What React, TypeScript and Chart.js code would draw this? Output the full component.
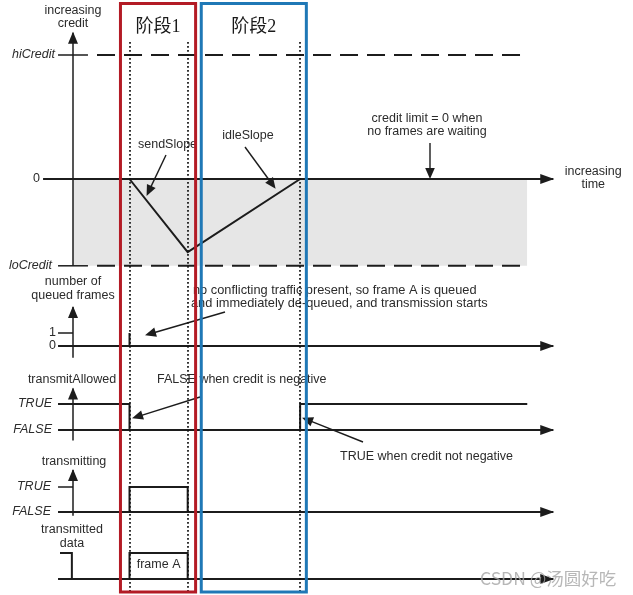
import React, { useEffect, useRef } from "react";
import { Chart, registerables } from "chart.js";

Chart.register(...registerables);

const W = 633;
const H = 595;

// ---- time axis (arbitrary units, origin at the vertical axes) ----
const eventTimes = [10, 20.3, 40.2]; // frame A queued & sent, transmission ends, credit back to 0
const traceStart = -2.65; // where the signal traces / tick marks begin
const timeEnd = 85; // tip of the time arrows
const shadeEnd = 80.4; // end of the negative-credit shading and limit lines
const dashStart = 4.25;
const phaseBoxes = [
  [8.4, 21.7],
  [22.7, 41.3],
];
const phaseLabels = ["阶段1", "阶段2"];

// ---- credit panel ----
const creditTickLabels = ["hiCredit", "0", "loCredit"];
const creditLimits = [10, 0, -7];
const creditPathT = [10, 20.3, 40.2];
const creditPathV = [0, -5.9, 0];

// ---- number of queued frames ----
const queueTickLabels = ["1", "0"];
const queueTicks = [1, 0];
const queueT = [10, 10];
const queueV = [0, 1];

// ---- transmitAllowed ----
const boolTickLabels = ["TRUE", "FALSE"];
const boolTicks = [1, 0];
const allowedT = [-2.65, 10, 10, 40.2, 40.2, 80.4];
const allowedV = [1, 1, 0, 0, 1, 1];

// ---- transmitting ----
const txT = [10, 10, 20.3, 20.3];
const txV = [0, 1, 1, 0];

// ---- transmitted data ----
const prevFrameT = [-2.3, -0.2, -0.2];
const prevFrameV = [1, 1, 0];
const frameAT = [10, 10, 20.3, 20.3];
const frameAV = [0, 1, 1, 0];

// ---- layout (pixels) ----
const X0 = 73;
const XU = 5.65;
const panels: Record<string, { base: number; unit: number }> = {
  yC: { base: 179, unit: 12.4 },
  yQ: { base: 346, unit: 13 },
  yA: { base: 430, unit: 26 },
  yT: { base: 512, unit: 25 },
  yD: { base: 579, unit: 26 },
};

const INK = "#1c1c1c";
const TXT = "#2b2b2b";
const SANS = '"Liberation Sans", Arial, sans-serif';
const F = `12.5px ${SANS}`;

const pts = (ts: number[], vs: number[]) => ts.map((t, i) => ({ x: t, y: vs[i] }));

function line(axis: string, data: any[], opts: any = {}) {
  return {
    type: "line",
    yAxisID: axis,
    data,
    borderColor: INK,
    borderWidth: 2,
    pointRadius: 0,
    tension: 0,
    fill: false,
    order: 0,
    ...opts,
  };
}

function head(ctx: CanvasRenderingContext2D, x1: number, y1: number, x2: number, y2: number, len: number, hw: number, color: string) {
  const ang = Math.atan2(y2 - y1, x2 - x1);
  ctx.save();
  ctx.translate(x2, y2);
  ctx.rotate(ang);
  ctx.beginPath();
  ctx.moveTo(1, 0);
  ctx.lineTo(-len, -hw);
  ctx.lineTo(-len, hw);
  ctx.closePath();
  ctx.fillStyle = color;
  ctx.fill();
  ctx.restore();
}

function pointer(ctx: CanvasRenderingContext2D, x1: number, y1: number, x2: number, y2: number) {
  const len = 10;
  const d = Math.hypot(x2 - x1, y2 - y1);
  const ex = x2 - ((x2 - x1) / d) * (len - 1);
  const ey = y2 - ((y2 - y1) / d) * (len - 1);
  ctx.save();
  ctx.strokeStyle = INK;
  ctx.lineWidth = 1.4;
  ctx.beginPath();
  ctx.moveTo(x1, y1);
  ctx.lineTo(ex, ey);
  ctx.stroke();
  ctx.restore();
  head(ctx, x1, y1, x2, y2, len, 4.8, INK);
}

function text(ctx: CanvasRenderingContext2D, s: string, x: number, y: number, align: CanvasTextAlign = "center", font = F, color = TXT) {
  ctx.save();
  ctx.font = font;
  ctx.fillStyle = color;
  ctx.textAlign = align;
  ctx.textBaseline = "middle";
  ctx.fillText(s, x, y);
  ctx.restore();
}

const diagramPlugin = {
  id: "diagram",
  afterDatasetsDraw(chart: any) {
    const ctx: CanvasRenderingContext2D = chart.ctx;
    const X = (t: number) => chart.scales.x.getPixelForValue(t);
    const Y = (axis: string, v: number) => chart.scales[axis].getPixelForValue(v);
    const ax = X(0);

    // arrowheads at the end of axis / time lines
    chart.data.datasets.forEach((ds: any, i: number) => {
      if (!ds.arrow) return;
      const meta = chart.getDatasetMeta(i);
      const n = meta.data.length;
      const a = meta.data[n - 2];
      const b = meta.data[n - 1];
      head(ctx, a.x, a.y, b.x, b.y, ds.arrow[0], ds.arrow[1], INK);
    });

    // axis titles
    text(ctx, "increasing", ax, 11);
    text(ctx, "credit", ax, 24);
    text(ctx, "increasing", X(timeEnd) + 40, 172);
    text(ctx, "time", X(timeEnd) + 40, 185);
    text(ctx, "number of", ax, 282);
    text(ctx, "queued frames", ax, 296);
    text(ctx, "transmitAllowed", ax - 1, 380);
    text(ctx, "transmitting", ax + 1, 462);
    text(ctx, "transmitted", ax - 1, 530);
    text(ctx, "data", ax - 1, 544);

    // tick labels
    const it = `italic 12.5px ${SANS}`;
    text(ctx, creditTickLabels[0], ax - 18, Y("yC", creditLimits[0]), "right", it);
    text(ctx, creditTickLabels[1], ax - 33, Y("yC", creditLimits[1]), "right");
    text(ctx, creditTickLabels[2], ax - 21, Y("yC", creditLimits[2]), "right", it);
    queueTicks.forEach((v, i) => text(ctx, queueTickLabels[i], ax - 17, Y("yQ", v), "right"));
    boolTicks.forEach((v, i) => {
      text(ctx, boolTickLabels[i], ax - 21, Y("yA", v), "right", it);
      text(ctx, boolTickLabels[i], ax - 22, Y("yT", v), "right", it);
    });

    // annotations
    text(ctx, "sendSlope", 138, 145, "left");
    text(ctx, "idleSlope", 248, 136);
    text(ctx, "credit limit = 0 when", 427, 119);
    text(ctx, "no frames are waiting", 427, 132);
    text(ctx, "no conflicting traffic present, so frame A is queued", 193, 290, "left", `12.8px ${SANS}`);
    text(ctx, "and immediately de-queued, and transmission starts", 191, 303, "left", `12.8px ${SANS}`);
    text(ctx, "FALSE when credit is negative", 157, 380, "left");
    text(ctx, "TRUE when credit not negative", 340, 457, "left");
    text(ctx, "frame A", (X(frameAT[0]) + X(frameAT[3])) / 2, 565);

    pointer(ctx, 166, 155, 147, 195);
    pointer(ctx, 245, 147, 275, 188);
    pointer(ctx, 430, 143, 430, 178);
    pointer(ctx, 225, 312, 146, 335);
    pointer(ctx, 200, 397, 133, 418);
    pointer(ctx, 363, 442, 303, 418);

    // dotted event markers
    ctx.save();
    ctx.strokeStyle = "#111";
    ctx.lineWidth = 1.7;
    ctx.setLineDash([1.7, 2.3]);
    eventTimes.forEach((t) => {
      const x = Math.round(X(t));
      ctx.beginPath();
      ctx.moveTo(x, 42);
      ctx.lineTo(x, 592);
      ctx.stroke();
    });
    ctx.restore();

    // phase boxes
    const colors = ["#b31b25", "#1f78b6"];
    ctx.save();
    ctx.lineWidth = 3;
    phaseBoxes.forEach(([a, b], i) => {
      const x1 = X(a);
      const x2 = X(b);
      ctx.strokeStyle = colors[i];
      ctx.strokeRect(x1, 3.5, x2 - x1, 588.5);
      text(ctx, phaseLabels[i], (x1 + x2) / 2, 27, "center", `18px "Liberation Serif", "Noto Sans CJK SC", serif`, "#1a1a1a");
    });
    ctx.restore();

    // watermark
    text(ctx, "CSDN @汤圆好吃", 480, 578, "left", `17.5px "Noto Sans CJK SC", sans-serif`, "rgba(165,165,165,0.8)");
  },
};

function buildDatasets() {
  const ds: any[] = [];
  // credit panel
  ds.push(line("yC", [{ x: 0, y: 0 }, { x: shadeEnd, y: 0 }], { borderWidth: 0, borderColor: "transparent", backgroundColor: "#e6e6e6", fill: { value: creditLimits[2] }, order: 10 }));
  ds.push(line("yC", [{ x: 0, y: creditLimits[2] }, { x: 0, y: 11.8 }], { borderWidth: 1.5, arrow: [11, 5] }));
  ds.push(line("yC", [{ x: -5.3, y: creditLimits[1] }, { x: timeEnd, y: creditLimits[1] }], { arrow: [13, 5] }));
  [creditLimits[0], creditLimits[2]].forEach((v) => {
    ds.push(line("yC", [{ x: traceStart, y: v }, { x: 2.65, y: v }], { borderWidth: 1.5 }));
    ds.push(line("yC", [{ x: dashStart, y: v }, { x: shadeEnd, y: v }], { borderDash: [18, 9] }));
  });
  ds.push(line("yC", pts(creditPathT, creditPathV)));
  // queued frames
  ds.push(line("yQ", [{ x: 0, y: -0.9 }, { x: 0, y: 3 }], { borderWidth: 1.5, arrow: [11, 5] }));
  ds.push(line("yQ", [{ x: traceStart, y: 0 }, { x: timeEnd, y: 0 }], { arrow: [13, 5] }));
  ds.push(line("yQ", [{ x: traceStart, y: 1 }, { x: 0, y: 1 }], { borderWidth: 1.5 }));
  ds.push(line("yQ", pts(queueT, queueV)));
  // transmitAllowed
  ds.push(line("yA", [{ x: 0, y: -0.4 }, { x: 0, y: 1.6 }], { borderWidth: 1.5, arrow: [11, 5] }));
  ds.push(line("yA", [{ x: traceStart, y: 0 }, { x: timeEnd, y: 0 }], { arrow: [13, 5] }));
  ds.push(line("yA", pts(allowedT, allowedV)));
  // transmitting
  ds.push(line("yT", [{ x: 0, y: -0.15 }, { x: 0, y: 1.68 }], { borderWidth: 1.5, arrow: [11, 5] }));
  ds.push(line("yT", [{ x: traceStart, y: 0 }, { x: timeEnd, y: 0 }], { arrow: [13, 5] }));
  ds.push(line("yT", [{ x: traceStart, y: 1 }, { x: 0, y: 1 }], { borderWidth: 1.5 }));
  ds.push(line("yT", pts(txT, txV)));
  // transmitted data
  ds.push(line("yD", [{ x: traceStart, y: 0 }, { x: timeEnd, y: 0 }], { arrow: [13, 5] }));
  ds.push(line("yD", pts(prevFrameT, prevFrameV)));
  ds.push(line("yD", pts(frameAT, frameAV)));
  return ds;
}

function panelScale(key: string) {
  const p = panels[key];
  return { type: "linear", display: false, min: -(H - p.base) / p.unit, max: p.base / p.unit };
}

export default function App() {
  const ref = useRef<HTMLCanvasElement | null>(null);
  useEffect(() => {
    if (!ref.current) return;
    const chart = new Chart(ref.current, {
      type: "line",
      data: { datasets: buildDatasets() },
      options: {
        responsive: false,
        animation: false,
        events: [],
        layout: { padding: 0, autoPadding: false },
        plugins: { legend: { display: false }, tooltip: { enabled: false }, title: { display: false } },
        scales: {
          x: { type: "linear", display: false, min: -X0 / XU, max: (W - X0) / XU },
          yC: panelScale("yC"),
          yQ: panelScale("yQ"),
          yA: panelScale("yA"),
          yT: panelScale("yT"),
          yD: panelScale("yD"),
        },
      } as any,
      plugins: [diagramPlugin as any],
    } as any);
    return () => chart.destroy();
  }, []);
  return (
    <canvas
      ref={ref}
      width={W}
      height={H}
      style={{ position: "absolute", left: 0, top: 0, width: W, height: H, display: "block", background: "#fff" }}
    />
  );
}
